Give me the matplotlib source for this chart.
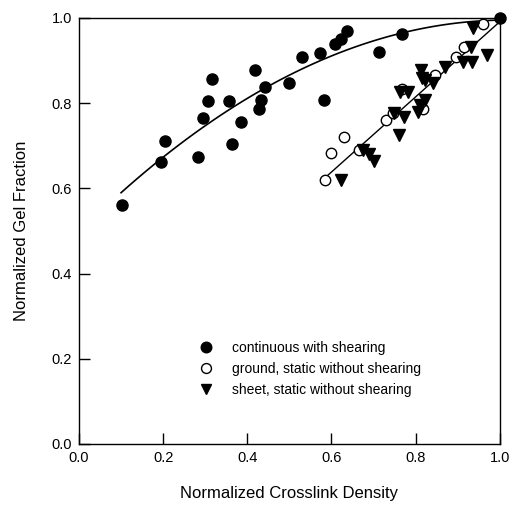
import numpy as np
import matplotlib
matplotlib.use("Agg")
import matplotlib.pyplot as plt

plt.rcParams['font.family'] = ['Liberation Sans', 'DejaVu Sans']

# continuous with shearing
cont_x = [0.102, 0.195, 0.204, 0.283, 0.294, 0.306, 0.316, 0.356, 0.363, 0.385,
          0.418, 0.428, 0.432, 0.442, 0.499, 0.530, 0.572, 0.582, 0.608, 0.622,
          0.637, 0.713, 0.767, 1.0]
cont_y = [0.561, 0.662, 0.711, 0.674, 0.765, 0.805, 0.857, 0.805, 0.705, 0.756,
          0.878, 0.786, 0.807, 0.838, 0.847, 0.908, 0.918, 0.807, 0.939, 0.951,
          0.969, 0.920, 0.962, 1.0]

# ground, static without shearing
grnd_x = [0.584, 0.599, 0.629, 0.665, 0.729, 0.746, 0.767, 0.817, 0.846, 0.895,
          0.915, 0.960]
grnd_y = [0.620, 0.683, 0.721, 0.690, 0.761, 0.777, 0.833, 0.786, 0.866, 0.909,
          0.932, 0.986]

# sheet, static without shearing
sheet_x = [0.622, 0.675, 0.690, 0.700, 0.760, 0.748, 0.772, 0.805, 0.810, 0.822,
           0.762, 0.781, 0.812, 0.815, 0.822, 0.841, 0.869, 0.912, 0.933, 0.969,
           0.931, 0.936]
sheet_y = [0.620, 0.690, 0.680, 0.665, 0.725, 0.777, 0.768, 0.780, 0.796, 0.807,
           0.826, 0.826, 0.878, 0.859, 0.854, 0.847, 0.885, 0.897, 0.897, 0.913,
           0.932, 0.977]

# fitted curves
c2 = np.polyfit(cont_x, cont_y, 2)
fx1 = np.linspace(0.1, 1.0, 100)
c1 = np.polyfit(grnd_x + sheet_x + [1.0], grnd_y + sheet_y + [1.0], 1)
fx2 = np.linspace(0.59, 1.0, 50)

fig = plt.figure(figsize=(5.11, 5.08), dpi=100)
ax = fig.add_axes([0.1546, 0.126, 0.8234, 0.8386])

ax.plot(fx1, np.polyval(c2, fx1), color='black', lw=1.2)
ax.plot(fx2, np.polyval(c1, fx2), color='black', lw=1.0)

ax.plot(cont_x, cont_y, 'o', color='black', ms=8, ls='none',
        label='continuous with shearing', clip_on=False)
ax.plot(grnd_x, grnd_y, 'o', mfc='white', mec='black', mew=1.0, ms=7.5, ls='none',
        label='ground, static without shearing')
ax.plot(sheet_x, sheet_y, 'v', color='black', ms=8, ls='none',
        label='sheet, static without shearing')

ax.set_xlim(0, 1.0)
ax.set_ylim(0, 1.0)
ax.set_xticks(np.arange(0, 1.01, 0.2))
ax.set_yticks(np.arange(0, 1.01, 0.2))
ax.xaxis.set_major_formatter(matplotlib.ticker.FormatStrFormatter('%.1f'))
ax.yaxis.set_major_formatter(matplotlib.ticker.FormatStrFormatter('%.1f'))
ax.tick_params(direction='in', length=8, width=1, labelsize=10.5, pad=5)
for s in ax.spines.values():
    s.set_linewidth(1)

ax.set_xlabel('Normalized Crosslink Density', fontsize=12, labelpad=15)
ax.set_ylabel('Normalized Gel Fraction', fontsize=12, labelpad=16)

ax.legend(loc='upper left', bbox_to_anchor=(0.255, 0.272), frameon=False,
          fontsize=10, markerscale=0.95, handletextpad=1.4, labelspacing=0.5,
          handlelength=1.0)

fig.savefig('out.png', dpi=100)
